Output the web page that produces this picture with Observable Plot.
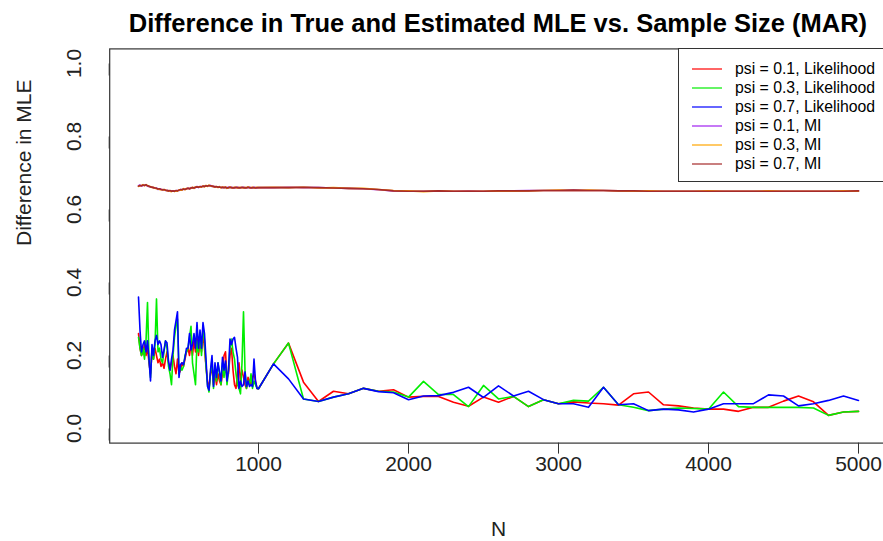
<!DOCTYPE html>
<html>
<head>
<meta charset="utf-8">
<script src="https://cdn.jsdelivr.net/npm/d3@7"></script>
<script src="https://cdn.jsdelivr.net/npm/@observablehq/plot@0.6"></script>
<style>
  html, body { margin: 0; padding: 0; background: #fff; }
  body { width: 883px; height: 541px; overflow: hidden; position: relative; font-family: "Liberation Sans", Arial, sans-serif; }
  #title { position: absolute; left: 109px; width: 778px; top: 8px; text-align: center; font-weight: bold; font-size: 25.5px; line-height: 30px; color: #000; }
  #chart { position: absolute; left: 0; top: 40px; }
  #legend { position: absolute; left: 678px; top: 48px; width: 220px; height: 134px; border: 1px solid #333; background: #fff; box-sizing: border-box; }
  .row { position: absolute; left: 0; height: 19px; display: flex; align-items: center; font-size: 15.8px; color: #000; }
  .row svg { margin-left: 13px; margin-right: 13px; }
</style>
</head>
<body>
<div id="title">Difference in True and Estimated MLE vs. Sample Size (MAR)</div>
<div id="chart"></div>
<div id="legend"></div>
<script>
// Sample sizes
const nDense = [200,210,220,230,240,250,260,270,280,290,300,310,320,330,340,350,360,370,380,390,
  400,410,420,430,440,450,460,470,480,490,500,510,520,530,540,550,560,570,580,590,
  600,610,620,630,640,650,660,670,680,690,700,710,720,730,740,750,760,770,780,790,
  800,810,820,830,840,850,860,870,880,890,900,910,920,930,940,950,960,970,980,990,1000];
const nSparse = [1100,1200,1300,1400,1500,1600,1700,1800,1900,2000,2100,2200,2300,2400,2500,2600,2700,2800,2900,3000,
  3100,3200,3300,3400,3500,3600,3700,3800,3900,4000,4100,4200,4300,4400,4500,4600,4700,4800,4900,5000];
const nValues = nDense.concat(nSparse);

// psi = 0.1, Likelihood (red)
const likPsi01 = [0.26,0.22,0.20,0.21,0.23,0.20,0.22,0.18,0.15,0.21,0.19,0.22,0.20,0.18,0.19,0.17,0.18,0.165,0.19,0.21,
  0.18,0.16,0.18,0.20,0.17,0.15,0.19,0.15,0.16,0.18,0.17,0.19,0.21,0.22,0.20,0.23,0.20,0.24,0.21,0.25,
  0.20,0.24,0.21,0.26,0.22,0.17,0.13,0.11,0.15,0.17,0.12,0.15,0.12,0.15,0.13,0.12,0.15,0.20,0.21,0.14,
  0.15,0.20,0.22,0.16,0.12,0.11,0.15,0.18,0.13,0.16,0.14,0.12,0.11,0.14,0.13,0.12,0.14,0.15,0.13,0.11,0.109,
  0.177,0.234,0.127,0.074,0.102,0.095,0.110,0.102,0.106,0.086,0.088,0.088,0.072,0.061,0.086,0.072,0.088,0.060,0.079,0.068,
  0.073,0.070,0.068,0.064,0.095,0.100,0.065,0.062,0.056,0.053,0.053,0.047,0.058,0.058,0.075,0.089,0.073,0.036,0.045,0.047];
// psi = 0.3, Likelihood (green)
const likPsi03 = [0.25,0.22,0.20,0.22,0.19,0.24,0.345,0.19,0.14,0.22,0.19,0.23,0.355,0.21,0.22,0.19,0.18,0.21,0.24,0.22,
  0.17,0.15,0.12,0.20,0.25,0.28,0.30,0.15,0.17,0.16,0.17,0.20,0.21,0.22,0.25,0.28,0.18,0.15,0.12,0.24,
  0.21,0.26,0.20,0.28,0.24,0.17,0.12,0.10,0.15,0.19,0.11,0.17,0.13,0.18,0.15,0.12,0.18,0.14,0.18,0.12,
  0.16,0.22,0.245,0.21,0.19,0.15,0.12,0.11,0.095,0.18,0.32,0.16,0.11,0.13,0.12,0.15,0.11,0.13,0.12,0.11,0.109,
  0.177,0.234,0.081,0.074,0.086,0.095,0.110,0.102,0.100,0.086,0.129,0.093,0.093,0.060,0.118,0.081,0.088,0.060,0.079,0.068,
  0.077,0.075,0.113,0.065,0.058,0.049,0.053,0.056,0.055,0.053,0.100,0.060,0.058,0.058,0.058,0.058,0.056,0.036,0.045,0.047];
// psi = 0.7, Likelihood (blue)
const likPsi07 = [0.36,0.27,0.21,0.23,0.24,0.21,0.24,0.19,0.13,0.23,0.20,0.24,0.255,0.23,0.24,0.23,0.195,0.215,0.24,0.235,
  0.185,0.16,0.19,0.215,0.27,0.295,0.32,0.14,0.175,0.18,0.175,0.195,0.22,0.22,0.26,0.215,0.23,0.26,0.22,0.29,
  0.22,0.27,0.22,0.29,0.26,0.19,0.115,0.105,0.16,0.20,0.115,0.18,0.14,0.18,0.155,0.13,0.195,0.16,0.185,0.13,
  0.16,0.245,0.23,0.245,0.25,0.22,0.195,0.11,0.13,0.115,0.12,0.155,0.115,0.13,0.115,0.12,0.115,0.19,0.13,0.11,0.109,
  0.177,0.136,0.081,0.074,0.086,0.095,0.110,0.101,0.098,0.079,0.089,0.090,0.099,0.113,0.085,0.117,0.089,0.102,0.079,0.068,
  0.068,0.058,0.113,0.065,0.068,0.049,0.053,0.051,0.045,0.053,0.068,0.068,0.068,0.092,0.089,0.062,0.068,0.077,0.089,0.077];
// psi = 0.1, MI (purple)
const miPsi01 = [0.665,0.667,0.664,0.666,0.667,0.667,0.664,0.663,0.661,0.662,0.659,0.658,0.659,0.655,0.656,0.656,0.653,0.654,0.652,0.653,
  0.650,0.651,0.651,0.650,0.651,0.651,0.652,0.652,0.654,0.655,0.655,0.656,0.656,0.659,0.656,0.660,0.659,0.660,0.660,0.663,
  0.660,0.662,0.663,0.663,0.664,0.664,0.665,0.665,0.666,0.663,0.664,0.661,0.662,0.662,0.661,0.661,0.660,0.661,0.660,0.660,
  0.661,0.660,0.661,0.660,0.659,0.660,0.661,0.660,0.659,0.660,0.661,0.660,0.659,0.660,0.661,0.660,0.659,0.661,0.660,0.659,0.660,
  0.660,0.661,0.660,0.660,0.659,0.658,0.657,0.654,0.651,0.650,0.650,0.650,0.650,0.651,0.650,0.651,0.651,0.652,0.652,0.652,
  0.653,0.652,0.652,0.651,0.651,0.650,0.650,0.650,0.650,0.650,0.650,0.650,0.650,0.650,0.650,0.650,0.650,0.650,0.650,0.651];
// psi = 0.3, MI (orange)
const miPsi03 = [0.663,0.665,0.666,0.668,0.665,0.667,0.666,0.663,0.663,0.660,0.661,0.658,0.657,0.657,0.655,0.654,0.655,0.653,0.654,0.651,
  0.652,0.650,0.649,0.651,0.649,0.651,0.650,0.654,0.653,0.653,0.657,0.654,0.658,0.657,0.658,0.658,0.661,0.658,0.662,0.661,
  0.662,0.662,0.661,0.665,0.662,0.666,0.663,0.667,0.664,0.665,0.662,0.663,0.662,0.660,0.663,0.659,0.662,0.659,0.662,0.658,
  0.659,0.662,0.659,0.660,0.661,0.660,0.659,0.661,0.660,0.660,0.659,0.661,0.659,0.662,0.659,0.660,0.661,0.659,0.660,0.661,0.660,
  0.661,0.660,0.661,0.659,0.660,0.658,0.658,0.655,0.652,0.651,0.649,0.651,0.650,0.650,0.650,0.651,0.650,0.651,0.652,0.653,
  0.652,0.653,0.652,0.651,0.650,0.651,0.650,0.650,0.650,0.651,0.650,0.650,0.650,0.651,0.650,0.650,0.650,0.650,0.651,0.650];
// psi = 0.7, MI (brown)
const miPsi07 = [0.664,0.666,0.665,0.667,0.666,0.668,0.665,0.664,0.662,0.661,0.660,0.659,0.658,0.656,0.657,0.655,0.654,0.655,0.653,0.652,
  0.651,0.652,0.650,0.651,0.650,0.652,0.651,0.653,0.655,0.654,0.656,0.655,0.657,0.658,0.657,0.659,0.660,0.659,0.661,0.662,
  0.661,0.663,0.662,0.664,0.663,0.665,0.664,0.666,0.665,0.664,0.663,0.662,0.663,0.661,0.662,0.660,0.661,0.660,0.661,0.659,
  0.660,0.661,0.660,0.659,0.660,0.661,0.660,0.659,0.660,0.661,0.660,0.659,0.660,0.661,0.660,0.659,0.660,0.660,0.659,0.660,0.660,
  0.660,0.660,0.661,0.660,0.659,0.658,0.657,0.655,0.651,0.650,0.650,0.651,0.650,0.650,0.650,0.651,0.651,0.651,0.652,0.652,
  0.653,0.652,0.652,0.651,0.651,0.650,0.650,0.650,0.650,0.650,0.650,0.650,0.650,0.650,0.650,0.650,0.650,0.650,0.650,0.651];

const seriesNames = ["psi = 0.1, Likelihood","psi = 0.3, Likelihood","psi = 0.7, Likelihood","psi = 0.1, MI","psi = 0.3, MI","psi = 0.7, MI"];
const seriesColors = ["#ff0000","#00ee00","#0000ff","#a020f0","#ffa500","#a52a2a"];
const seriesValues = [likPsi01, likPsi03, likPsi07, miPsi01, miPsi03, miPsi07];
const yTicks = [0.0, 0.2, 0.4, 0.6, 0.8, 1.0];
const xTicks = [1000, 2000, 3000, 4000, 5000];

const rows = [];
seriesNames.forEach((name, s) => {
  seriesValues[s].forEach((v, i) => rows.push({series: name, n: nValues[i], value: v}));
});

const W = 883, H = 501;
const mL = 109.2, mT = 8.4, mB = 98.4, mR = -3.8;

const chart = Plot.plot({
  width: W, height: H,
  marginLeft: mL, marginTop: mT, marginBottom: mB, marginRight: mR,
  style: {fontFamily: "Liberation Sans, Arial, sans-serif", background: "transparent", overflow: "visible"},
  x: {domain: [8, 5192], range: [mL, W - mR]},
  y: {domain: [-0.04, 1.04], range: [H - mB, mT]},
  color: {domain: seriesNames, range: seriesColors},
  marks: [
    Plot.frame({stroke: "#333", strokeWidth: 1.2}),
    Plot.line(rows, {x: "n", y: "value", z: "series", stroke: "series", strokeWidth: 1.6}),
    Plot.axisX({ticks: xTicks, tickSize: 11, tickPadding: 2, fontSize: 21, tickFormat: d3.format("d"), label: null, stroke: "#333", color: "#222"}),
    Plot.axisY({ticks: yTicks, tickSize: 12, tickPadding: 23, fontSize: 21, tickFormat: d3.format(".1f"), rotate: -90, textAnchor: "middle", label: null, stroke: "#333", color: "#222"}),
    Plot.text(["Difference in MLE"], {frameAnchor: "left", rotate: -90, dx: -85, fontSize: 21, fill: "#222"}),
    Plot.text(["N"], {frameAnchor: "bottom", dy: 93, fontSize: 21, fill: "#222"})
  ]
});
document.getElementById("chart").appendChild(chart);

const legend = document.getElementById("legend");
seriesNames.forEach((name, i) => {
  const row = document.createElement("div");
  row.className = "row";
  row.style.top = (10.3 + i * 19) + "px";
  row.innerHTML = `<svg width="30" height="4"><line x1="0" x2="30" y1="2" y2="2" stroke="${seriesColors[i]}" stroke-width="1.6" opacity="0.75"></line></svg><span>${name}</span>`;
  legend.appendChild(row);
});
</script>
</body>
</html>
